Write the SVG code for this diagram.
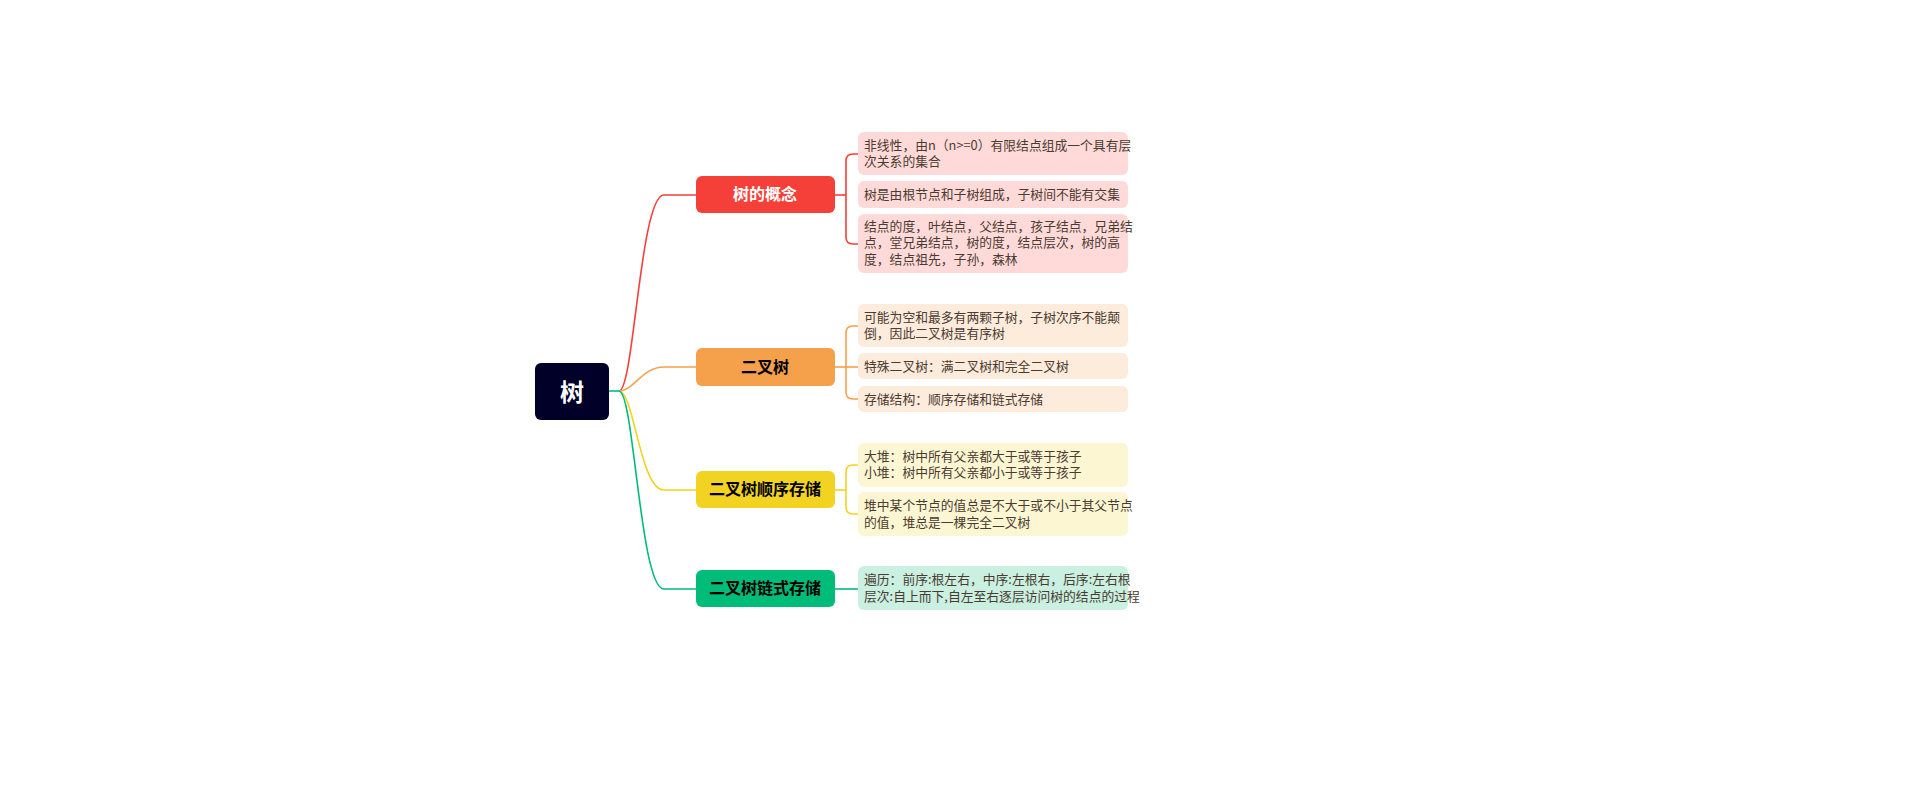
<svg xmlns="http://www.w3.org/2000/svg" width="1914" height="810" viewBox="0 0 1914 810">
<style>
text{font-family:"Noto Sans CJK SC","Liberation Sans",sans-serif}
.b{font-size:16px;font-weight:bold;text-anchor:middle}
.l{font-size:12.8px;fill:#4a3a30}
.c{fill:none;stroke-width:1.6}
</style>
<rect width="1914" height="810" fill="#fff"/>
<g id="connectors">
<path class="c" stroke="#00BC7B" d="M609,391 L619,391"/>
<path class="c" stroke="#F5403A" d="M619,391 C634,391 640,195 664,195 L696,195"/>
<path class="c" stroke="#F5A04A" d="M619,391 C634,391 642,367 664,367 L696,367"/>
<path class="c" stroke="#F3D321" d="M619,391 C634,391 640,490 664,490 L696,490"/>
<path class="c" stroke="#00BC7B" d="M619,391 C634,391 640,589 664,589 L696,589"/>
<g stroke="#F5403A" class="c"><path d="M835,195 L846,195"/><path d="M858,154 L853,154 Q846,154 846,161 L846,237 Q846,244 853,244 L858,244"/></g>
<g stroke="#F5A04A" class="c"><path d="M835,367 L858,367"/><path d="M858,326 L853,326 Q846,326 846,333 L846,392 Q846,399 853,399 L858,399"/></g>
<g stroke="#F3D321" class="c"><path d="M835,490 L846,490"/><path d="M858,465 L853,465 Q846,465 846,472 L846,507 Q846,514 853,514 L858,514"/></g>
<path class="c" stroke="#00BC7B" d="M835,589 L858,589"/>
</g>
<g id="root"><rect x="535" y="363" width="74" height="57" rx="6" fill="#000029"/><text x="572" y="401" font-size="24" font-weight="bold" fill="#fff" text-anchor="middle">树</text></g>
<g id="b1"><rect x="696" y="176" width="139" height="37" rx="6" fill="#F5403A"/><text class="b" x="765" y="200" fill="#fff">树的概念</text></g>
<g id="b2"><rect x="696" y="348" width="139" height="38" rx="6" fill="#F5A04A"/><text class="b" x="765" y="373">二叉树</text></g>
<g id="b3"><rect x="696" y="471" width="139" height="37" rx="6" fill="#F3D321"/><text class="b" x="765" y="495">二叉树顺序存储</text></g>
<g id="b4"><rect x="696" y="570" width="139" height="37" rx="6" fill="#00BC7B"/><text class="b" x="765" y="594">二叉树链式存储</text></g>
<g id="l1"><rect x="858" y="132" width="270" height="43" rx="6" fill="#FFDAD9"/><text class="l" x="864" y="150">非线性，由n（n&gt;=0）有限结点组成一个具有层</text><text class="l" x="864" y="166">次关系的集合</text></g>
<g id="l2"><rect x="858" y="181" width="270" height="27" rx="6" fill="#FFDAD9"/><text class="l" x="864" y="199">树是由根节点和子树组成，子树间不能有交集</text></g>
<g id="l3"><rect x="858" y="214" width="270" height="59" rx="6" fill="#FFDAD9"/><text class="l" x="864" y="231">结点的度，叶结点，父结点，孩子结点，兄弟结</text><text class="l" x="864" y="247">点，堂兄弟结点，树的度，结点层次，树的高</text><text class="l" x="864" y="264">度，结点祖先，子孙，森林</text></g>
<g id="l4"><rect x="858" y="304" width="270" height="43" rx="6" fill="#FDEBDC"/><text class="l" x="864" y="322">可能为空和最多有两颗子树，子树次序不能颠</text><text class="l" x="864" y="338">倒，因此二叉树是有序树</text></g>
<g id="l5"><rect x="858" y="353" width="270" height="26" rx="6" fill="#FDEBDC"/><text class="l" x="864" y="371">特殊二叉树：满二叉树和完全二叉树</text></g>
<g id="l6"><rect x="858" y="386" width="270" height="26" rx="6" fill="#FDEBDC"/><text class="l" x="864" y="404">存储结构：顺序存储和链式存储</text></g>
<g id="l7"><rect x="858" y="443" width="270" height="44" rx="6" fill="#FDF6D3"/><text class="l" x="864" y="461">大堆：树中所有父亲都大于或等于孩子</text><text class="l" x="864" y="477">小堆：树中所有父亲都小于或等于孩子</text></g>
<g id="l8"><rect x="858" y="492" width="270" height="44" rx="6" fill="#FDF6D3"/><text class="l" x="864" y="510">堆中某个节点的值总是不大于或不小于其父节点</text><text class="l" x="864" y="527">的值，堆总是一棵完全二叉树</text></g>
<g id="l9"><rect x="858" y="566" width="270" height="44" rx="6" fill="#C9F0E1"/><text class="l" x="864" y="584">遍历：前序:根左右，中序:左根右，后序:左右根</text><text class="l" x="864" y="601">层次:自上而下,自左至右逐层访问树的结点的过程</text></g>
</svg>
